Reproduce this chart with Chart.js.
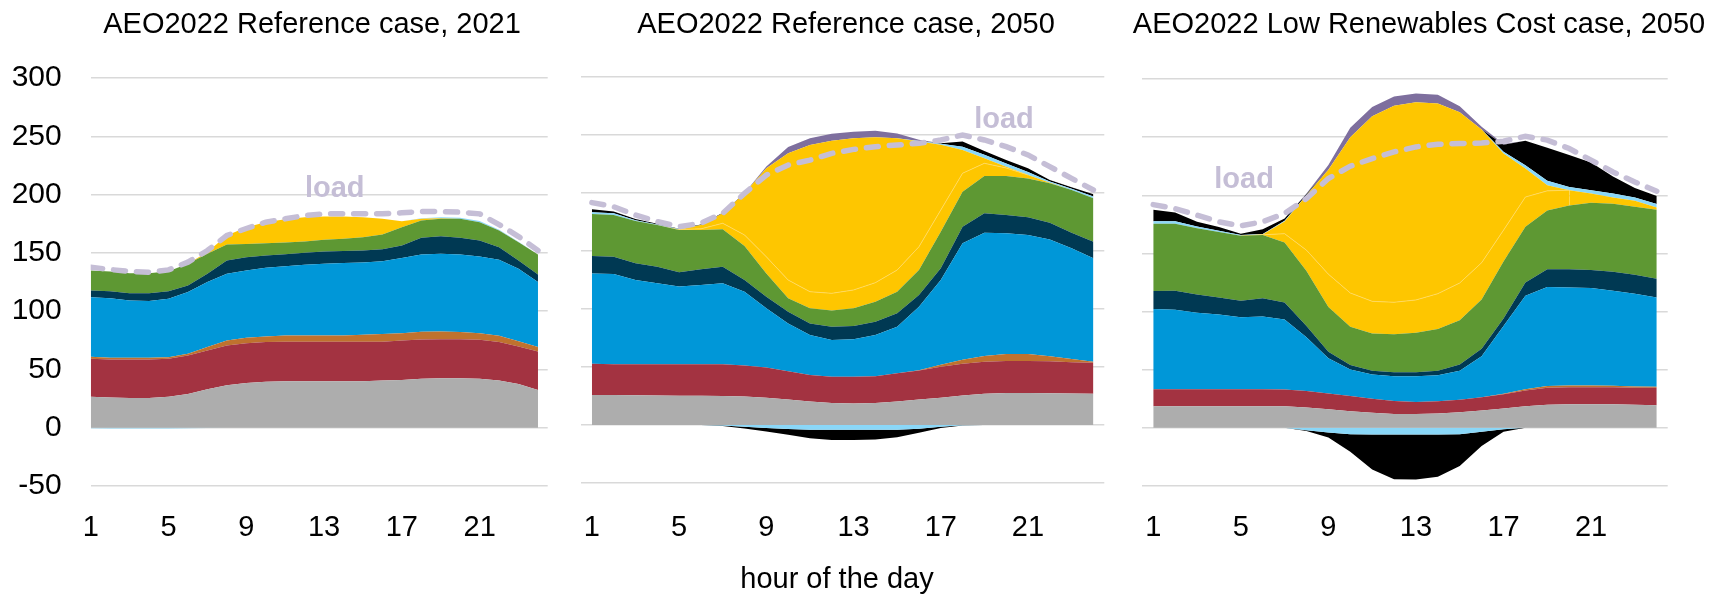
<!DOCTYPE html>
<html><head><meta charset="utf-8">
<script src="https://cdn.jsdelivr.net/npm/chart.js@4.4.1/dist/chart.umd.min.js"></script>
<style>
html,body{margin:0;padding:0;background:#fff;width:1711px;height:594px;overflow:hidden;font-family:"Liberation Sans",Arial,sans-serif;}
canvas{position:absolute;top:0;}
.t{position:absolute;font-size:29px;line-height:29px;color:#000;white-space:nowrap;transform:translateX(-50%);}
</style></head><body>
<canvas id="c1" width="560" height="594" style="left:0px"></canvas>
<canvas id="c2" width="560" height="594" style="left:560px"></canvas>
<canvas id="c3" width="591" height="594" style="left:1120px"></canvas>
<div class="t" style="left:312px;top:9px">AEO2022 Reference case, 2021</div>
<div class="t" style="left:846px;top:9px">AEO2022 Reference case, 2050</div>
<div class="t" style="left:1419px;top:9px">AEO2022 Low Renewables Cost case, 2050</div>
<div class="t" style="left:837px;top:564px">hour of the day</div>
<script>
// ---------- data ----------
const hours = [1,2,3,4,5,6,7,8,9,10,11,12,13,14,15,16,17,18,19,20,21,22,23,24];
const xTickValues = [1,5,9,13,17,21];
const yTickValues = [-50,0,50,100,150,200,250,300];

// AEO2022 Reference case, 2021
const nuclear2021 = [26.5,26,25.5,25.5,26.5,29,33,36.5,38.5,39.5,40,40,40,40,40,40.5,41,42,42.5,42.5,42,40.5,37.5,32.5];
const coal2021    = [32.7,32.6,33.1,33.1,32.7,33,33.3,34.1,34.1,34,33.8,33.8,33.8,33.8,33.8,33.3,33.9,33.8,33.5,33.5,33.5,33,32.3,33];
const other2021   = [1.7,1.4,1.4,1.4,1.3,1.5,2.9,4.3,4.6,4.9,5.4,5.4,5.4,5.4,6,6.6,6.3,6.6,6.6,6.1,5.7,5.4,4.5,3.7];
const gasCC2021   = [51.2,51.2,49.2,48.7,50.2,52.9,55.8,57.2,57.8,58.9,59.5,60.6,61.5,62.1,62,62.6,64.4,66.3,66.7,66.6,65.8,65.2,62.1,55.8];
const gasCT2021   = [5.7,6,6.3,6.8,6.5,5.7,7.1,11.5,11.4,10.5,10.3,10.3,10.6,10.3,10.3,10.3,10.8,14.3,15.1,14.3,13.7,10.9,7.2,6.5];
const wind2021    = [17.2,16.9,17.2,17.2,17.2,18.6,17.2,13.7,11.4,10.6,10,9.8,10,10.5,11.5,12.6,15.7,14.9,14.9,16.3,15.7,14.3,15.7,17.2];
const solarA2021  = [0,0,0,0,0,0,1.5,7.7,14.3,18,20,20.8,20,19.2,17.1,13.4,5.2,1.4,0.5,0,0,0,0,0];
const hydro2021   = [0,0,0,0,0,0,0,0,0,0,0,0,0,0,0,0,0,0.5,0.8,1,1,0.7,0.3,0];
const hydroNeg2021= [-0.5,-0.6,-0.7,-0.7,-0.6,-0.4,-0.2,0,0,0,0,0,0,0,0,0,0,0,0,0,0,0,0,0];
const load2021    = [137.8,135.8,134.1,133.5,135.5,142.1,152.1,165,171,176.4,179.3,182.1,183.6,183.6,183.6,183.6,184.5,185.6,185.6,185,183.6,174.4,164.1,152.1];

// AEO2022 Reference case, 2050
const nuclearRef50 = [25.8,25.8,25.6,25.4,25.2,25.2,25.1,24.5,23.5,22,20.3,19,18.6,19,20.2,21.9,23.5,25.5,27,27.6,27.6,27.4,27.2,27];
const coalRef50    = [27.1,26.5,26.7,26.9,27.1,27.1,27.2,26.8,26.1,24.4,22.8,22.5,22.9,23.1,24.5,25.1,26.8,27.4,27.5,27.6,27.6,27.6,27,26.6];
const otherRef50   = [0,0,0,0,0,0,0,0,0,0,0,0,0,0,0,0.3,1.6,3.3,4.9,5.9,5.9,4.2,2.6,0.9];
const gasCCRef50   = [77.8,77.9,72.7,69.8,67,68.4,69.8,63.6,51,41.2,34.5,31.8,32.4,35.5,40.1,54.7,73.1,100.4,106.4,104.1,102.7,100.8,95.5,89.2];
const gasCTRef50   = [15,14.9,14.4,14.4,12.3,13.5,14.4,10.1,10,10.1,10,11.5,11.4,11.5,11.5,10.1,10.1,14.4,16.7,15.8,15.2,14.4,13.5,14.3];
const windRef50    = [36.2,35.9,36.5,35.9,36.5,33.9,32.2,29.3,20.1,11.5,13,13.8,15.3,17.2,18.6,21.5,31.6,30.1,32.2,33.7,33.6,33.9,36.8,37.4];
const solarARef50  = [0,0,0,0,0.5,1,5.2,9.5,14.3,15.8,14.3,14.9,15.8,16.4,18.7,20.1,18.6,15.9,10.9,6.9,2.9,0.5,0,0];
const solarBRef50  = [0,0,0,0,0,3.3,8.6,35.9,76.3,109.2,126.5,131.6,130.7,125.3,113.5,90.6,56.2,20.1,4.3,1.1,0,0,0,0];
const hydroRef50   = [1.5,1.5,0.7,0.5,0.3,0,0,0,0,0,0,0,0,0,0,0.5,1,2.8,3,2.7,2.5,1.2,1,1.5];
const batteryRef50 = [2.5,1.5,1,0.5,0.3,0.5,0.5,0.3,0,0,0,0,0,0,0,0,0.3,4.4,3.3,3,3.3,1.3,1.3,2];
const curtailRef50 = [0,0,0,0,0,0,0,0,1.5,5.5,5.7,6,5.8,5.7,4.3,1,0,0,0,0,0,0,0,0];
const hydroNegRef50   = [0,0,0,0,0,0,-0.5,-1.5,-2.5,-3.5,-4,-4.2,-4.2,-4.2,-4,-3.2,-1.5,-0.3,0,0,0,0,0,0];
const batteryNegRef50 = [0,0,0,0,0,0,-0.3,-1.5,-3,-5,-7.5,-8.7,-8.7,-8.3,-6.5,-3.5,-1,-0.2,0,0,0,0,0,0];
const loadRef50    = [191.7,188.2,181,175.3,171,173.9,182.5,199.7,215.5,224.1,228.4,234.2,237.6,239.9,241.4,242.8,245.7,250,245.7,239.9,232.8,222.7,212.6,202.6];

// AEO2022 Low Renewables Cost case, 2050
const nuclearLow50 = [18.6,18.6,18.6,18.6,18.6,18.6,18.6,17.6,16,14.3,13,12,12,12.4,13.4,15,16.6,18.6,19.9,20.2,20.2,20.2,19.9,19.5];
const coalLow50    = [14.6,14.6,14.6,14.6,14.6,14.6,14.3,14,13.6,13.1,12,11,10.3,10.4,10.7,11.4,12.4,13.6,14.6,14.7,14.7,14.7,14.6,15];
const otherLow50   = [0,0,0,0,0,0,0,0,0,0,0,0,0,0,0,0,0.3,1,1.5,1.5,1.5,1.3,1,0.8];
const gasCCLow50   = [69.1,68.4,65.8,64.2,61.9,62.6,60.3,46.3,30.3,22.8,20.9,21.3,22,22.5,25.1,35.2,58.3,80.5,85.2,84.4,83.8,81.7,79.8,76.8];
const gasCTLow50   = [15.3,16.3,15.7,14.7,14.3,15.6,14.6,9.7,5.6,3.9,3.3,3.6,3.6,3.9,5.2,6.5,6.5,11.4,15.3,15.7,15.6,16.3,16.3,16.2];
const windLow50    = [58,57.7,57,56.3,55.7,54.4,51.5,47.3,38.4,32.9,31.9,32.6,33.9,35.8,38.1,42.3,48.9,47.9,50.5,54.7,57.7,58.6,58.6,59.3];
const solarALow50  = [0,0,0,0,0,0.2,7.7,17.9,28.3,29,27.7,27.5,28.2,30.4,32.1,31.6,27,25.5,16.8,13.2,8,5.3,5,1.9];
const solarBLow50  = [0,0,0,0,0,0.3,10.5,47.2,89.8,134,159.2,169,170,163.6,146.9,114.5,66,24.5,4.9,0,0,0,0,0];
const hydroLow50   = [2,2,1.5,1,0.8,0.5,0.5,0.3,0,0,0,0,0,0,0,0,1.5,2.9,3.7,2.8,2.9,3.4,2.9,2.9];
const batteryLow50 = [10,7.6,4,3.3,1,4,2,0.8,0,0,0,0,0,0,0,0,6,21,28.5,27.5,23.7,14.6,8.2,7];
const curtailLow50 = [0,0,0,0,0,0,0,0.5,4,8,8,8,7.5,7.5,5,2.5,0.5,0,0,0,0,0,0,0];
const hydroNegLow50   = [0,0,0,0,0,0,0,-2,-4,-5.5,-5.7,-5.7,-5.7,-5.7,-5.5,-3.4,-1.1,0,0,0,0,0,0,0];
const batteryNegLow50 = [0,0,0,0,0,0,0,-0.6,-4.3,-15.1,-30.1,-38.4,-38.7,-36.4,-27.4,-12.3,-2.3,0,0,0,0,0,0,0];
const loadLow50    = [192,188.6,182.9,177.2,173.7,177.2,184.3,197.2,214.4,225,231.6,237.3,241.6,243.9,244.5,245,246.5,250.8,247.4,240.2,230.2,220.1,211.5,203.5];

// ---------- styles ----------
const COLORS = {
  nuclear:'#ADADAD', coal:'#A33341', other:'#BF722E', gasCC:'#0097D8', gasCT:'#003953',
  wind:'#5E9833', solarA:'#FEC600', solarB:'#FEC600', hydro:'#8AD7F8', battery:'#000000',
  curtail:'#7E6F9E', load:'#C5BED6', grid:'#D9D9D9', faint:'#FFDA66'
};
const FONT = '"Liberation Sans", Arial, sans-serif';
Chart.defaults.font.family = FONT;
Chart.defaults.color = '#000';

const loadLabelPlugin = {
  id: 'loadLabel',
  afterDatasetsDraw(chart, args, opts) {
    if (!opts || !opts.text) return;
    const {ctx, scales} = chart;
    ctx.save();
    ctx.font = 'bold 29px ' + FONT;
    ctx.fillStyle = COLORS.load;
    ctx.textAlign = 'center';
    ctx.textBaseline = 'alphabetic';
    ctx.fillText(opts.text, scales.x.getPixelForValue(opts.x), scales.y.getPixelForValue(opts.y));
    ctx.restore();
  }
};

function pts(arr) { return arr.map((v, i) => ({x: hours[i], y: v})); }

function makePanel(cfg) {
  const ds = [];
  const order = ['nuclear','coal','other','gasCC','gasCT','wind','solarA','solarB','hydro','battery','curtail'];
  let first = true;
  order.forEach(key => {
    const arr = cfg.series[key];
    if (!arr) return;
    const d = {
      label: key, data: pts(arr), backgroundColor: COLORS[key], borderColor: 'rgba(0,0,0,0)',
      borderWidth: 0, fill: first ? 'origin' : '-1', pointRadius: 0, tension: 0, stack: 'pos'
    };
    if (key === 'solarA' && cfg.series.solarB) {
      const upper = cfg.series.solarB;
      d.borderWidth = 0.8;
      d.segment = { borderColor: c => (upper[c.p0DataIndex] > 0 || upper[c.p1DataIndex] > 0) ? COLORS.faint : 'rgba(0,0,0,0)' };
    }
    ds.push(d);
    first = false;
  });
  let firstNeg = true;
  [['hydro', cfg.neg.hydro], ['battery', cfg.neg.battery]].forEach(([key, arr]) => {
    if (!arr) return;
    ds.push({label: key + 'Neg', data: pts(arr), backgroundColor: COLORS[key], borderColor: 'rgba(0,0,0,0)',
      borderWidth: 0, fill: firstNeg ? 'origin' : '-1', pointRadius: 0, tension: 0, stack: 'neg'});
    firstNeg = false;
  });
  ds.push({label: 'load', data: pts(cfg.load), borderColor: COLORS.load, backgroundColor: COLORS.load,
    borderWidth: 5.5, borderDash: [12, 11], borderCapStyle: 'round', fill: false, pointRadius: 0,
    tension: 0, stack: 'load', order: -1});

  return new Chart(document.getElementById(cfg.id), {
    type: 'line',
    data: { datasets: ds },
    options: {
      responsive: false, animation: false,
      layout: { padding: cfg.padding },
      plugins: { legend: {display: false}, tooltip: {enabled: false}, title: {display: false},
        loadLabel: cfg.loadLabel },
      scales: {
        x: {
          type: 'linear', min: cfg.xMin, max: cfg.xMax,
          grid: {display: false}, border: {display: false},
          afterBuildTicks: s => { s.ticks = xTickValues.map(v => ({value: v})); },
          afterFit: s => { s.height = cfg.xHeight; },
          ticks: { font: {size: 29}, color: '#000', padding: cfg.xPad, maxRotation: 0, autoSkip: false }
        },
        y: {
          stacked: true, min: -50, max: 300,
          grid: {color: COLORS.grid, lineWidth: 1.5, drawTicks: false}, border: {display: false},
          afterBuildTicks: s => { s.ticks = yTickValues.map(v => ({value: v})); },
          afterFit: s => { s.width = cfg.yWidth; },
          ticks: { display: cfg.showY, font: {size: 30}, color: '#000', padding: 29 }
        }
      }
    },
    plugins: [loadLabelPlugin]
  });
}

makePanel({
  id: 'c1', xMin: 1, xMax: 24.5, yWidth: 90.7, showY: true, xHeight: 108, xPad: 17,
  padding: {left: 0, right: 12.3, top: 78.2, bottom: 0},
  series: {nuclear: nuclear2021, coal: coal2021, other: other2021, gasCC: gasCC2021, gasCT: gasCT2021,
    wind: wind2021, solarA: solarA2021, hydro: hydro2021},
  neg: {hydro: hydroNeg2021},
  load: load2021,
  loadLabel: {text: 'load', x: 13.55, y: 197.8}
});
makePanel({
  id: 'c2', xMin: 0.5, xMax: 24.5, yWidth: 0, showY: false, xHeight: 111, xPad: 20,
  padding: {left: 21, right: 15.7, top: 77, bottom: 0},
  series: {nuclear: nuclearRef50, coal: coalRef50, other: otherRef50, gasCC: gasCCRef50, gasCT: gasCTRef50,
    wind: windRef50, solarA: solarARef50, solarB: solarBRef50, hydro: hydroRef50, battery: batteryRef50, curtail: curtailRef50},
  neg: {hydro: hydroNegRef50, battery: batteryNegRef50},
  load: loadRef50,
  loadLabel: {text: 'load', x: 19.9, y: 255.8}
});
makePanel({
  id: 'c3', xMin: 0.5, xMax: 24.5, yWidth: 0, showY: false, xHeight: 108, xPad: 17,
  padding: {left: 22.3, right: 43.3, top: 79, bottom: 0},
  series: {nuclear: nuclearLow50, coal: coalLow50, other: otherLow50, gasCC: gasCCLow50, gasCT: gasCTLow50,
    wind: windLow50, solarA: solarALow50, solarB: solarBLow50, hydro: hydroLow50, battery: batteryLow50, curtail: curtailLow50},
  neg: {hydro: hydroNegLow50, battery: batteryNegLow50},
  load: loadLow50,
  loadLabel: {text: 'load', x: 5.15, y: 206.1}
});
</script>
</body></html>
